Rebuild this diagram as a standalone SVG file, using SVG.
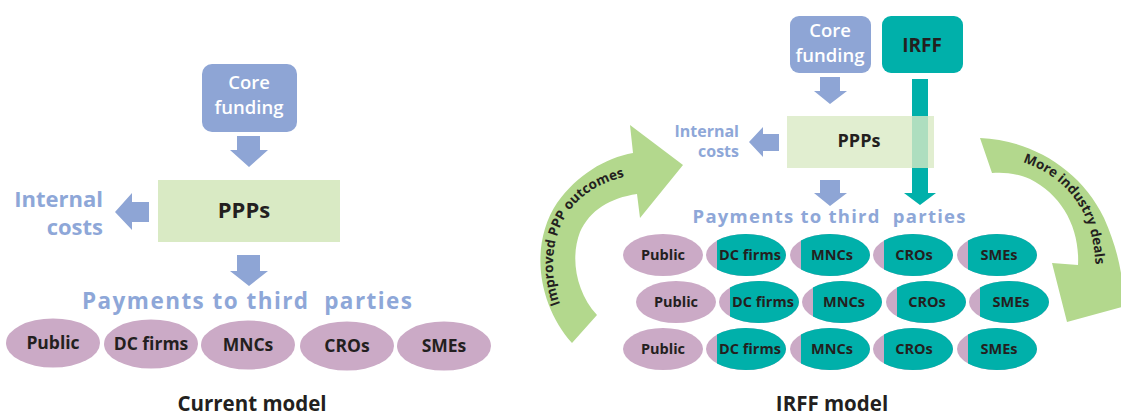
<svg xmlns="http://www.w3.org/2000/svg" width="1121" height="416" viewBox="0 0 1121 416">
<style>
.bg{fill:#ffffff}
.blue{fill:#8ea5d5}
.teal{fill:#00b0aa}
.green{fill:#d9eac4}
.pink{fill:#cbaac6}
.curve{fill:#b3d88d}
.t{font-family:"Open Sans","Noto Sans","DejaVu Sans",sans-serif;text-anchor:middle}
.w{fill:#ffffff;font-weight:600}
.k{fill:#231f20;font-weight:700}
.lb{fill:#8ea7d8;font-weight:700}
.end{text-anchor:end}
.e1{font-size:17.5px}
.e2{font-size:14.5px}
</style>
<defs>
<ellipse id="eL" rx="47" ry="24.5"/>
<ellipse id="eR" rx="40" ry="21"/>
<path id="tealR" d="M -29,-14.46 A 40 21 0 1 1 -29,14.46 Z"/>
<path id="pathL" d="M 569,322 C 549,290 547,245 567,214 C 584,190 608,178 644,173"/>
<path id="pathR" d="M 996,157 C 1040,160 1078,188 1090,230 C 1095,250 1097,268 1096,292"/>
</defs>
<rect class="bg" x="0" y="0" width="1121" height="416"/>

<g id="connectors">
<polygon class="blue" points="237,136 260,136 260,150 268,150 249,167 230,150 237,150"/>
<polygon class="blue" points="149,202 149,222 132,222 132,230 115,212 132,193 132,202"/>
<polygon class="blue" points="237,255 260,255 260,271 268,271 249,286 230,271 237,271"/>
<polygon class="blue" points="820,77 840,77 840,91 847,91 830,104 814,91 820,91"/>
<polygon class="teal" points="912,79 928,79 928,193 936,193 920,205 904,193 912,193"/>
<polygon class="blue" points="779,134 779,151 763,151 763,157 749,142 763,127 763,134"/>
<polygon class="blue" points="820,180 840,180 840,193 847,193 830,206 814,193 820,193"/>
<g id="loop-left">
<path class="curve" d="M 572,343 C 538,305 529,245 557,203 C 577,175 605,158 633,153 L 630,125 L 683,165 L 640,218 L 637,194 C 610,198 590,210 580,232 C 570,258 576,292 597,315 Z"/>
<text class="t k" font-size="13.5"><textPath href="#pathL" startOffset="50%">Improved PPP outcomes</textPath></text>
</g>
<g id="loop-right">
<path class="curve" d="M 980,138 C 1030,140 1080,168 1104,218 C 1116,245 1122,270 1123,292 L 1140,302 L 1067,322 L 1052,263 L 1078,265 C 1080,228 1062,195 1030,179 C 1015,173 1003,172 992,173 Z"/>
<text class="t k" font-size="13.5"><textPath href="#pathR" startOffset="50%">More industry deals</textPath></text>
</g>
</g>

<g id="current-model">
<g id="core-funding-1">
<rect class="blue" x="202" y="64" width="95" height="68" rx="10"/>
<text class="t w" x="249" y="89" font-size="18.5">Core</text>
<text class="t w" x="249" y="114" font-size="18.5">funding</text>
</g>
<g id="ppps-1">
<rect class="green" x="158" y="180" width="182" height="62"/>
<text class="t k" x="244" y="218" font-size="22">PPPs</text>
</g>
<g id="internal-costs-1">
<text class="t lb end" x="103" y="207" font-size="22">Internal</text>
<text class="t lb end" x="103" y="235" font-size="22">costs</text>
</g>
<g id="payments-1">
<text class="t lb" x="247" y="309" font-size="22.5" textLength="330" lengthAdjust="spacing" xml:space="preserve">Payments to third  parties</text>
</g>
<g id="public-1"><use href="#eL" class="pink" x="53" y="343"/><text class="t k e1" x="53" y="349">Public</text></g>
<g id="dcfirms-1"><use href="#eL" class="pink" x="151" y="344"/><text class="t k e1" x="151" y="350">DC firms</text></g>
<g id="mncs-1"><use href="#eL" class="pink" x="248" y="345"/><text class="t k e1" x="248" y="351">MNCs</text></g>
<g id="cros-1"><use href="#eL" class="pink" x="347" y="346"/><text class="t k e1" x="347" y="352">CROs</text></g>
<g id="smes-1"><use href="#eL" class="pink" x="444" y="346"/><text class="t k e1" x="444" y="352">SMEs</text></g>
<text class="t k" x="252" y="411" font-size="20.5">Current model</text>
</g>

<g id="irff-model">
<g id="core-funding-2">
<rect class="blue" x="790" y="16" width="81" height="57" rx="9"/>
<text class="t w" x="830" y="37" font-size="18.5">Core</text>
<text class="t w" x="830" y="62" font-size="18.5">funding</text>
</g>
<g id="irff">
<rect class="teal" x="882" y="16" width="81" height="57" rx="9"/>
<text class="t k" x="922" y="52" font-size="19">IRFF</text>
</g>
<g id="ppps-2">
<rect class="green" x="787" y="116" width="147" height="52" opacity="0.8"/>
<text class="t k" x="859" y="147" font-size="18">PPPs</text>
</g>
<g id="internal-costs-2">
<text class="t lb end" x="739" y="137" font-size="16">Internal</text>
<text class="t lb end" x="739" y="157" font-size="16">costs</text>
</g>
<g id="payments-2">
<text class="t lb" x="829" y="223" font-size="18.5" textLength="273" lengthAdjust="spacing" xml:space="preserve">Payments to third  parties</text>
</g>

<g id="row1">
<g id="public-r1"><use href="#eR" class="pink" x="663" y="255"/><text class="t k e2" x="663" y="260">Public</text></g>
<g id="dcfirms-r1"><use href="#eR" class="pink" x="746" y="255"/><use href="#tealR" class="teal" x="746" y="255"/><text class="t k e2" x="750" y="260">DC firms</text></g>
<g id="mncs-r1"><use href="#eR" class="pink" x="830" y="255"/><use href="#tealR" class="teal" x="830" y="255"/><text class="t k e2" x="832" y="260">MNCs</text></g>
<g id="cros-r1"><use href="#eR" class="pink" x="913" y="255"/><use href="#tealR" class="teal" x="913" y="255"/><text class="t k e2" x="914" y="260">CROs</text></g>
<g id="smes-r1"><use href="#eR" class="pink" x="997" y="255"/><use href="#tealR" class="teal" x="997" y="255"/><text class="t k e2" x="999" y="260">SMEs</text></g>
</g>
<g id="row2">
<g id="public-r2"><use href="#eR" class="pink" x="676" y="302"/><text class="t k e2" x="676" y="307">Public</text></g>
<g id="dcfirms-r2"><use href="#eR" class="pink" x="759" y="302"/><use href="#tealR" class="teal" x="759" y="302"/><text class="t k e2" x="763" y="307">DC firms</text></g>
<g id="mncs-r2"><use href="#eR" class="pink" x="842" y="302"/><use href="#tealR" class="teal" x="842" y="302"/><text class="t k e2" x="844" y="307">MNCs</text></g>
<g id="cros-r2"><use href="#eR" class="pink" x="926" y="302"/><use href="#tealR" class="teal" x="926" y="302"/><text class="t k e2" x="927" y="307">CROs</text></g>
<g id="smes-r2"><use href="#eR" class="pink" x="1009" y="302"/><use href="#tealR" class="teal" x="1009" y="302"/><text class="t k e2" x="1011" y="307">SMEs</text></g>
</g>
<g id="row3">
<g id="public-r3"><use href="#eR" class="pink" x="663" y="349"/><text class="t k e2" x="663" y="354">Public</text></g>
<g id="dcfirms-r3"><use href="#eR" class="pink" x="746" y="349"/><use href="#tealR" class="teal" x="746" y="349"/><text class="t k e2" x="750" y="354">DC firms</text></g>
<g id="mncs-r3"><use href="#eR" class="pink" x="830" y="349"/><use href="#tealR" class="teal" x="830" y="349"/><text class="t k e2" x="832" y="354">MNCs</text></g>
<g id="cros-r3"><use href="#eR" class="pink" x="913" y="349"/><use href="#tealR" class="teal" x="913" y="349"/><text class="t k e2" x="914" y="354">CROs</text></g>
<g id="smes-r3"><use href="#eR" class="pink" x="997" y="349"/><use href="#tealR" class="teal" x="997" y="349"/><text class="t k e2" x="999" y="354">SMEs</text></g>
</g>
<text class="t k" x="832" y="411" font-size="20.5">IRFF model</text>
</g>
</svg>
